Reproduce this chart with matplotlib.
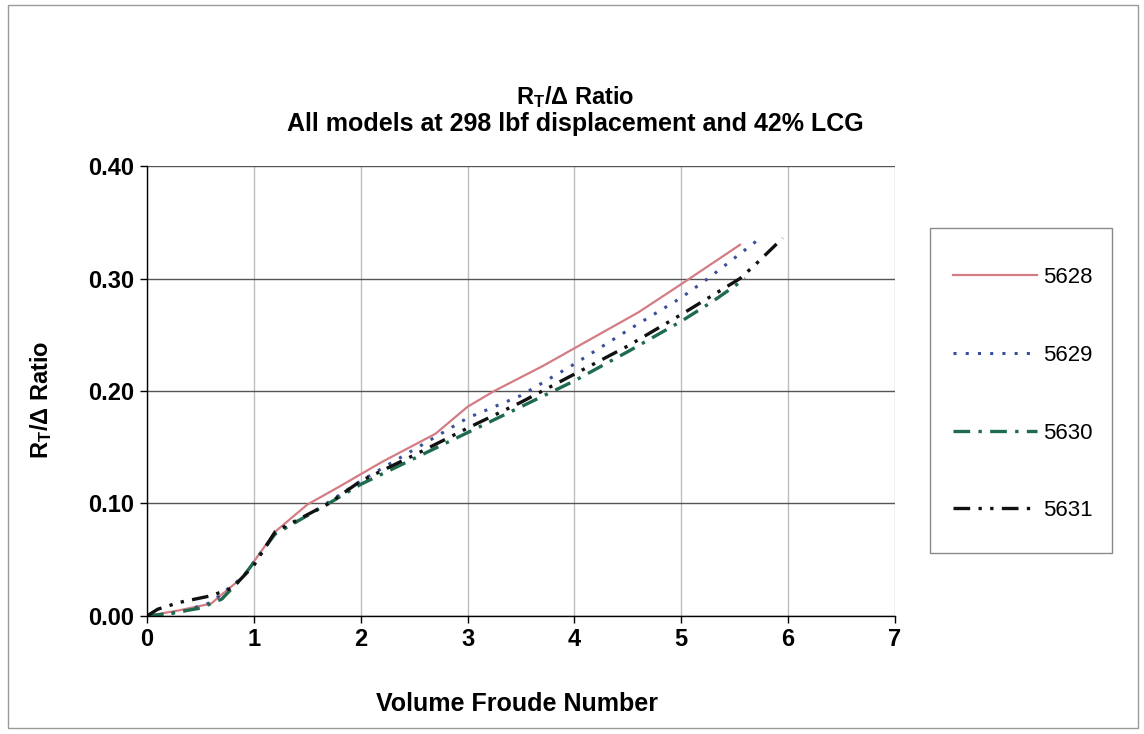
import matplotlib
matplotlib.use("Agg")
import matplotlib.pyplot as plt
from matplotlib.patches import Rectangle

plt.rcParams["font.family"] = ["Liberation Sans", "DejaVu Sans"]
plt.rcParams["mathtext.fontset"] = "custom"
plt.rcParams["mathtext.rm"] = "Liberation Sans:bold"
plt.rcParams["mathtext.default"] = "rm"

# data (Volume Froude number vs RT/displacement)
x_5628 = [0, 0.3, 0.6, 0.9, 1.2, 1.5, 1.8, 2.2, 2.7, 3.0, 3.25, 3.7, 4.0, 4.6, 5.0, 5.55]
y_5628 = [0, 0.005, 0.011, 0.035, 0.075, 0.099, 0.115, 0.137, 0.162, 0.186, 0.200,
          0.222, 0.238, 0.270, 0.295, 0.330]

x_5629 = [0, 0.3, 0.6, 0.9, 1.2, 1.6, 2.0, 2.5, 3.0, 3.5, 4.0, 4.5, 5.0, 5.25, 5.7]
y_5629 = [0, 0.003, 0.012, 0.035, 0.073, 0.095, 0.120, 0.148, 0.176, 0.196,
          0.224, 0.254, 0.283, 0.300, 0.333]

x_5630 = [0, 0.2, 0.5, 0.7, 0.9, 1.2, 1.7, 2.0, 2.5, 3.0, 3.5, 4.0, 4.5, 5.0, 5.3, 5.6]
y_5630 = [0, 0.002, 0.007, 0.015, 0.035, 0.073, 0.100, 0.117, 0.140, 0.163,
          0.186, 0.209, 0.235, 0.262, 0.280, 0.300]

x_5631 = [0, 0.1, 0.3, 0.6, 0.8, 1.0, 1.2, 1.7, 2.0, 2.5, 3.0, 3.5, 4.0, 4.5,
          5.0, 5.55, 5.7, 5.95]
y_5631 = [0, 0.006, 0.012, 0.018, 0.025, 0.045, 0.075, 0.100, 0.120, 0.143,
          0.167, 0.190, 0.215, 0.240, 0.268, 0.300, 0.313, 0.336]

series = [
    ("5628", x_5628, y_5628, dict(color="#D47C84", lw=1.6, ls="-")),
    ("5629", x_5629, y_5629, dict(color="#3A4E9A", lw=2.2, ls=(0, (1, 3)))),
    ("5630", x_5630, y_5630, dict(color="#1F6B4E", lw=2.4, ls=(0, (5, 2.5, 1, 2.5)))),
    ("5631", x_5631, y_5631, dict(color="#111111", lw=2.4, ls=(0, (5, 2.5, 1, 2.5, 1, 2.5)))),
]

fig = plt.figure(figsize=(11.44, 7.34), dpi=100)
# outer chart border and legend box
fig.patches.append(Rectangle((0.007, 0.008), 0.988, 0.985, transform=fig.transFigure,
                             fill=False, edgecolor="#9A9A9A", lw=1.0))
fig.patches.append(Rectangle((0.8129, 0.2466), 0.159, 0.4428, transform=fig.transFigure,
                             fill=False, edgecolor="#8A8A8A", lw=1.0))
ax = fig.add_axes([0.1285, 0.1608, 0.6538, 0.613])

for label, xs, ys, st in series:
    ax.plot(xs, ys, label=label, **st)

ax.set_xlim(0, 7)
ax.set_ylim(0, 0.40)
ax.set_xticks(range(0, 8))
ax.set_yticks([0, 0.1, 0.2, 0.3, 0.4])
ax.set_yticklabels([f"{v:.2f}" for v in [0, 0.1, 0.2, 0.3, 0.4]])
ax.xaxis.grid(True, color="#BDBDBD", lw=1.0)
ax.yaxis.grid(True, color="#555555", lw=1.0)
ax.set_axisbelow(True)
for s in ("top", "right"):
    ax.spines[s].set_visible(False)
for s in ("left", "bottom"):
    ax.spines[s].set_color("black")
    ax.spines[s].set_linewidth(1.0)
ax.tick_params(direction="out", length=5, width=1, labelsize=17, pad=4)
for t in ax.get_xticklabels() + ax.get_yticklabels():
    t.set_fontweight("bold")

ax.set_xlabel("Volume Froude Number", fontsize=18, fontweight="bold")
ax.xaxis.set_label_coords(0.495, -0.168)
ax.set_ylabel(r"R$_{\mathrm{T}}$/Δ Ratio", fontsize=17, fontweight="bold")
ax.yaxis.set_label_coords(-0.125, 0.48)

fig.text(0.503, 0.868, r"R$_{\mathrm{T}}$/Δ Ratio", ha="center", va="center",
         fontsize=17, fontweight="bold")
fig.text(0.503, 0.831, "All models at 298 lbf displacement and 42% LCG",
         ha="center", va="center", fontsize=18, fontweight="bold")

ax.legend(loc="upper left", bbox_to_anchor=(0.833, 0.636), bbox_transform=fig.transFigure,
          frameon=False, fontsize=16, handlelength=3.8, handletextpad=0.25,
          labelspacing=2.55, borderpad=0, borderaxespad=0)

fig.savefig("out.png", dpi=100, facecolor="white")
